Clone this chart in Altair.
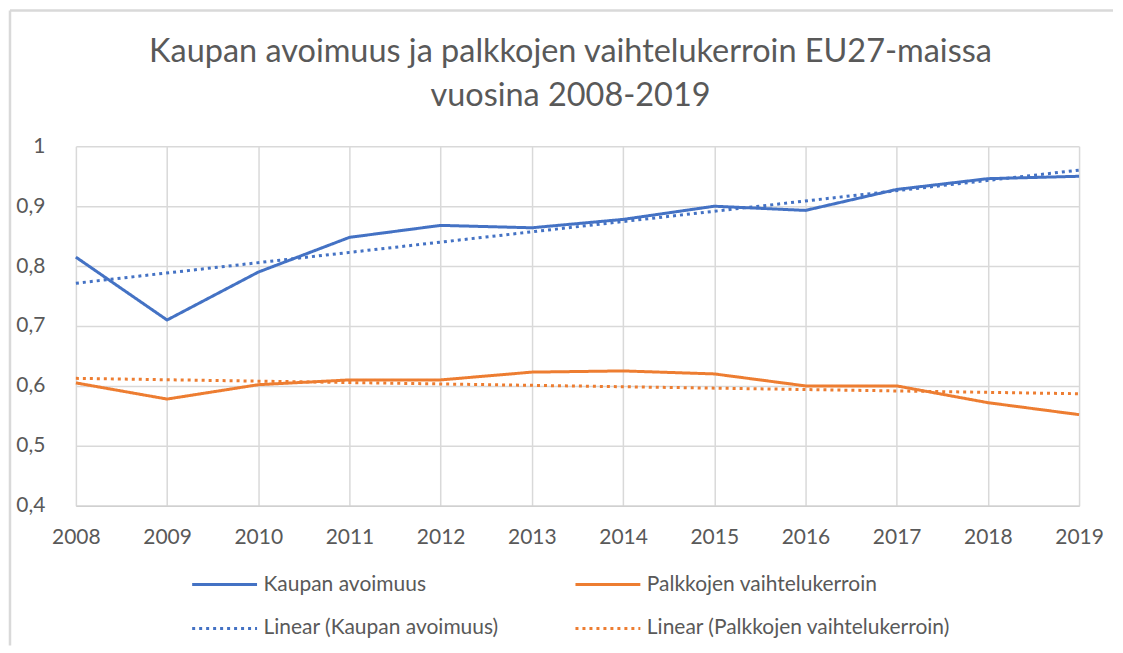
import altair as alt
import pandas as pd

years = [2008, 2009, 2010, 2011, 2012, 2013, 2014, 2015, 2016, 2017, 2018, 2019]
kaupan = [0.815, 0.710, 0.790, 0.848, 0.868, 0.864, 0.878, 0.900, 0.893, 0.928, 0.946, 0.950]
palkkojen = [0.605, 0.578, 0.602, 0.610, 0.610, 0.623, 0.625, 0.620, 0.600, 0.600, 0.572, 0.552]

s1 = "Kaupan avoimuus"
s2 = "Palkkojen vaihtelukerroin"
labels = [s1, s2, "Linear (" + s1 + ")", "Linear (" + s2 + ")"]
colors = ["#4472C4", "#ED7D31", "#4472C4", "#ED7D31"]
dashes = [[1, 0], [1, 0], [3, 4], [3, 4]]
y_ticks = [0.4, 0.5, 0.6, 0.7, 0.8, 0.9, 1.0]

df = pd.DataFrame({
    "year": years * 2,
    "value": kaupan + palkkojen,
    "series": [s1] * len(years) + [s2] * len(years),
})
df["label"] = df["series"]

FONT = "Lato"
TXT = "#595959"

leg = alt.Legend(
    title=None, orient="none", legendX=115, legendY=405, columns=2, direction="horizontal",
    columnPadding=70, rowPadding=-10, symbolType="stroke", symbolSize=4225,
    symbolStrokeWidth=3, labelFontSize=21, labelFont=FONT, labelColor=TXT,
    labelOffset=5, labelLimit=0,
)
color = alt.Color("label:N", scale=alt.Scale(domain=labels, range=colors), legend=leg)
dash = alt.StrokeDash("label:N", scale=alt.Scale(domain=labels, range=dashes), legend=leg)

x = alt.X("year:Q", scale=alt.Scale(domain=[2008, 2019], nice=False, zero=False),
          axis=alt.Axis(title=None, values=years, format="d", labelFlush=False,
                        tickSize=0, labelPadding=21, labelFontSize=21, labelFont=FONT,
                        labelColor=TXT, grid=True, gridColor="#d9d9d9", gridWidth=1.5,
                        domainColor="#d0d0d0", domainWidth=1.5))
y = alt.Y("value:Q", scale=alt.Scale(domain=[0.4, 1.0], nice=False, zero=False),
          axis=alt.Axis(title=None, values=y_ticks, labelFlush=False, tickSize=0,
                        labelPadding=31, labelFontSize=21, labelFont=FONT, labelColor=TXT,
                        labelExpr="replace(format(datum.value, '.1~f'), '.', ',')",
                        grid=True, gridColor="#d9d9d9", gridWidth=1.5, domain=False,
                        minExtent=67, maxExtent=67))

base = alt.Chart(df)
lines = base.mark_line(strokeWidth=3, strokeCap="butt", strokeJoin="round").encode(
    x=x, y=y, color=color, strokeDash=dash)

trend = base.transform_regression("year", "value", groupby=["series"]).transform_calculate(
    label="'Linear (' + datum.series + ')'"
).mark_line(strokeWidth=3, strokeCap="butt").encode(
    x=x, y=y, color=color, strokeDash=dash)

frame_df = pd.DataFrame({"a": [0]})
frame_top = alt.Chart(frame_df).mark_rule(color="#d9d9d9", strokeWidth=2.5).encode(
    x=alt.value(-66), x2=alt.value(1039), y=alt.value(-136))
frame_left = alt.Chart(frame_df).mark_rule(color="#d9d9d9", strokeWidth=2.5).encode(
    x=alt.value(-66), y=alt.value(-136), y2=alt.value(500))

chart = alt.layer(lines, trend, frame_top, frame_left).properties(
    width=1005, height=360,
    padding={"left": 0, "top": 0, "right": 0, "bottom": 0},
    title=alt.TitleParams(
        text=["Kaupan avoimuus ja palkkojen vaihtelukerroin EU27-maissa", "vuosina 2008-2019"],
        fontSize=32.5, font=FONT, fontWeight="normal", color=TXT, lineHeight=44,
        anchor="middle", offset=-103, dx=-7,
    ),
).configure_view(strokeWidth=0)

chart.save("out.html", embed_options={"renderer": "svg", "actions": False})
